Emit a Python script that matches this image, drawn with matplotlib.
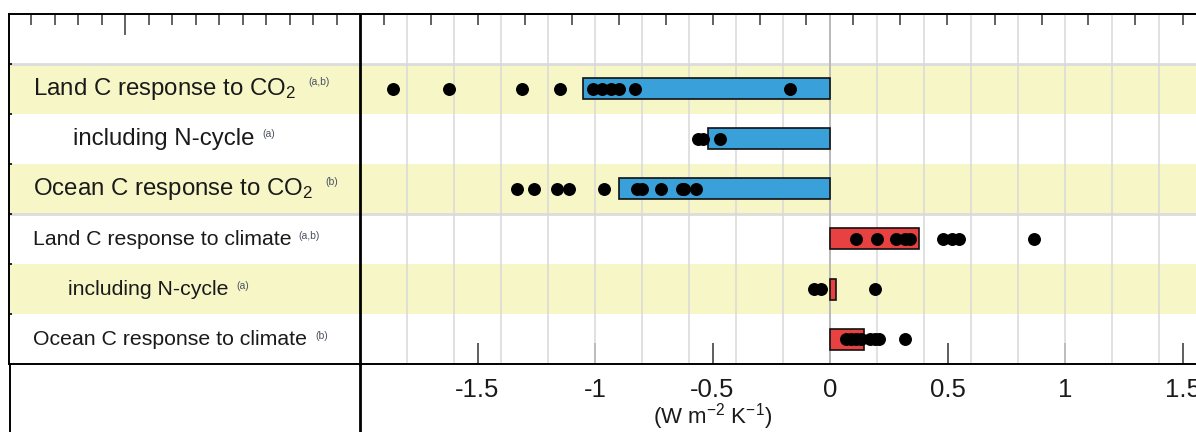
import numpy as np
import matplotlib
matplotlib.use("Agg")
import matplotlib.pyplot as plt
from matplotlib.lines import Line2D

plt.rcParams['font.family'] = ['Liberation Sans', 'DejaVu Sans']
plt.rcParams['mathtext.default'] = 'regular'

# feedback terms (W m-2 K-1)
categories = ["Land C response to CO$_2$", "including N-cycle", "Ocean C response to CO$_2$",
              "Land C response to climate", "including N-cycle", "Ocean C response to climate"]
sources = ["(a,b)", "(a)", "(b)", "(a,b)", "(a)", "(b)"]
bar_values = [-1.05, -0.52, -0.90, 0.38, 0.025, 0.145]
land_co2 = [-1.86, -1.62, -1.31, -1.15, -1.01, -0.97, -0.93, -0.90, -0.83, -0.17]
land_co2_n = [-0.56, -0.54, -0.47]
ocean_co2 = [-1.33, -1.26, -1.16, -1.11, -0.96, -0.82, -0.80, -0.72, -0.63, -0.62, -0.57]
land_clim = [0.11, 0.20, 0.28, 0.32, 0.34, 0.48, 0.52, 0.55, 0.87]
land_clim_n = [-0.07, -0.04, 0.19]
ocean_clim = [0.07, 0.09, 0.11, 0.13, 0.17, 0.19, 0.21, 0.32]
model_values = [land_co2, land_co2_n, ocean_co2, land_clim, land_clim_n, ocean_clim]
tick_vals = [-1.5, -1, -0.5, 0, 0.5, 1, 1.5]
tick_labels = ['-1.5', '-1', '-0.5', '0', '0.5', '1', '1.5']

label_x = [0.068, 0.182, 0.068, 0.068, 0.168, 0.068]
label_size = [17.3, 17.3, 17.3, 15.3, 15.3, 15.3]
sup_gap = [9, 6, 9, 5, 6, 6]

W, H = 1196, 432
fig = plt.figure(figsize=(W / 100, H / 100), dpi=100)
ax_lab = fig.add_axes([9 / W, 68 / H, 351 / W, 350 / H])
ax = fig.add_axes([360 / W, 68 / H, 836 / W, 350 / H])

yellow = '#f6f6c7'
for a in (ax_lab, ax):
    a.set_ylim(7, 0)
    for r in (1, 3, 5):
        a.axhspan(r, r + 1, color=yellow, lw=0, zorder=0)
    for r in (1, 4):
        a.axhline(r, color='#dcdcdc', lw=2, zorder=0.5)
    for s in ('top', 'bottom', 'left'):
        a.spines[s].set_color('black')
        a.spines[s].set_linewidth(1.4)
    a.spines['right'].set_visible(False)
ax.spines['left'].set_linewidth(2)

# label panel
ax_lab.set_xlim(-3.494, -2)
ax_lab.xaxis.tick_top()
ax_lab.set_xticks([-3.0])
ax_lab.set_xticks(np.arange(-3.4, -2.05, 0.1), minor=True)
ax_lab.tick_params(axis='x', which='major', direction='in', length=15, width=1.3, color='#555', labeltop=False)
ax_lab.tick_params(axis='x', which='minor', direction='in', length=8, width=1.3, color='#555')
ax_lab.set_yticks(range(1, 7))
ax_lab.tick_params(axis='y', direction='in', length=2.5, width=1.2, labelleft=False)

for i, (lab, src) in enumerate(zip(categories, sources)):
    t = ax_lab.text(label_x[i], i + 1.62, lab, transform=ax_lab.get_yaxis_transform(),
                    fontsize=label_size[i], color='#1a1a1a', va='baseline', ha='left')
    ax_lab.annotate(src, xy=(1, 1), xycoords=t, xytext=(sup_gap[i], -1), textcoords='offset points',
                    fontsize=7.5, color='#4a5260', va='top', ha='left')

# main panel
ax.set_xlim(-2, -2 + 836 / 235)
ax.set_xticks(np.arange(-1.8, 1.6, 0.2), minor=True)
ax.xaxis.remove_overlapping_locs = False
ax.grid(which='minor', axis='x', color='#d9d9d9', lw=1.1, zorder=0.6)
ax.tick_params(axis='x', which='minor', length=0)
ax.set_xticks(tick_vals)
ax.set_xticklabels(tick_labels)
ax.tick_params(axis='x', which='major', direction='in', length=15, width=1.1, color='#333',
               labelsize=18.5, labelcolor='#1a1a1a', pad=10)
ax.set_yticks([])
ax.axvline(0, color='#444', lw=1.3, zorder=1)

top = ax.secondary_xaxis('top')
top.set_xticks(np.arange(-1.9, 1.6, 0.2))
top.tick_params(direction='in', length=8, width=1.3, color='#555', labeltop=False)
top.spines['top'].set_linewidth(1.4)

for i, (v, pts) in enumerate(zip(bar_values, model_values)):
    y = i + 1.5
    ax.barh(y, v, height=0.42, color='#3aa0da' if v < 0 else '#e84141',
            edgecolor='#111', lw=1.2, zorder=2)
    ax.plot(pts, [y] * len(pts), 'o', color='black', ms=8.3, zorder=3, clip_on=False)

ax.set_xlabel('(W m$^{-2}$ K$^{-1}$)', fontsize=16, color='#1a1a1a', va='center')
ax.xaxis.set_label_coords((-0.5 + 2) / (836 / 235), -53 / 350)

# frame lines running to the bottom edge
for xp, lw in ((9.5, 1.4), (360, 2)):
    fig.add_artist(Line2D([xp / W, xp / W], [0, 68 / H], color='black', lw=lw))

fig.savefig('out.png', dpi=100)
